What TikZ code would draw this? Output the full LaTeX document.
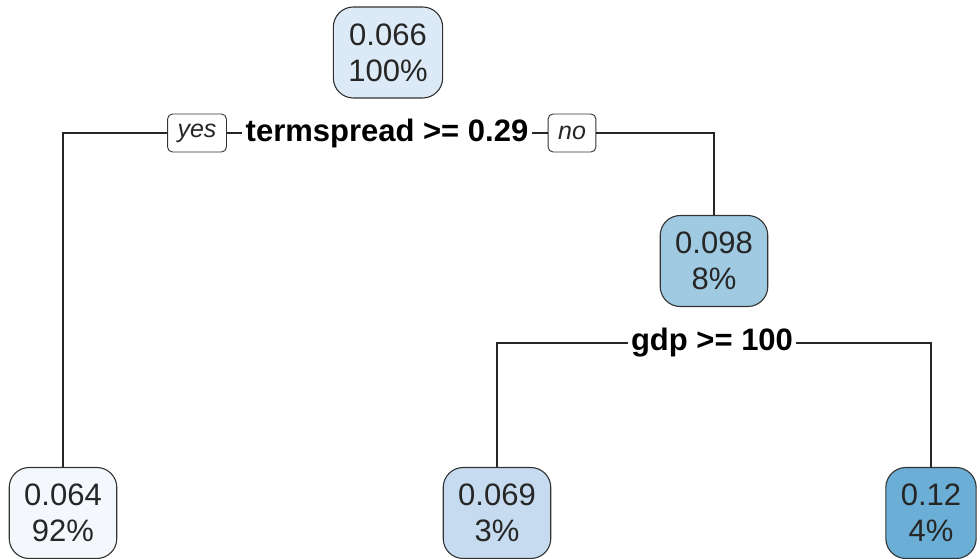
\documentclass[tikz,border=0pt]{standalone}
\usepackage{fontspec}
\setmainfont{Liberation Sans}
\usetikzlibrary{positioning}

% fill colours of the leaves, light to dark
\definecolor{shadeA}{HTML}{F4F8FD}
\definecolor{shadeB}{HTML}{DCE9F6}
\definecolor{shadeC}{HTML}{C6DBEF}
\definecolor{shadeD}{HTML}{9FCAE2}
\definecolor{shadeE}{HTML}{6BAED6}

\tikzset{
    treenode/.style={draw=black!80, line width=1.1pt, rounded corners=20pt,
        align=center, inner xsep=15pt, minimum height=91pt, text=black!85,
        font=\fontsize{31}{36}\selectfont},
    splitlabel/.style={fill=white, inner sep=3pt, text=black,
        font=\bfseries\fontsize{31}{36}\selectfont},
    answer/.style={draw=black!80, line width=0.9pt, rounded corners=5pt, fill=white,
        minimum height=38pt, inner xsep=10pt, text=black!85,
        font=\itshape\fontsize{25}{28}\selectfont},
    edge/.style={line width=1.1pt, black!85}
}

\begin{document}
\begin{tikzpicture}[x=1pt, y=-1pt]
    \useasboundingbox (0,0) rectangle (980,559);

    % Nodes
    \node[treenode, fill=shadeB] (root) at (388,52.5) {0.066\\100\%};
    \node[treenode, fill=shadeD] (right) at (714,261) {0.098\\8\%};
    \node[treenode, fill=shadeA] (leafL) at (63,513) {0.064\\92\%};
    \node[treenode, fill=shadeC] (leafM) at (497,513) {0.069\\3\%};
    \node[treenode, fill=shadeE] (leafR) at (931,513) {0.12\\4\%};

    % First split
    \node[splitlabel] (split1) at (387,133) {termspread >= 0.29};
    \node[answer] (yes) at (197,133) {yes};
    \node[answer] (no) at (572,133) {no};
    \coordinate (turnL) at (leafL |- split1);
    \coordinate (turnR) at (right |- split1);
    \draw[edge] (leafL.north) -- (turnL) -- (yes.west);
    \draw[edge] (yes.east) -- (split1.west);
    \draw[edge] (split1.east) -- (no.west);
    \draw[edge] (no.east) -- (turnR) -- (right.north);

    % Second split
    \node[splitlabel] (split2) at (712,343) {gdp >= 100};
    \coordinate (turnM) at (leafM |- split2);
    \coordinate (turnE) at (leafR |- split2);
    \draw[edge] (leafM.north) -- (turnM) -- (split2.west);
    \draw[edge] (split2.east) -- (turnE) -- (leafR.north);
\end{tikzpicture}
\end{document}
